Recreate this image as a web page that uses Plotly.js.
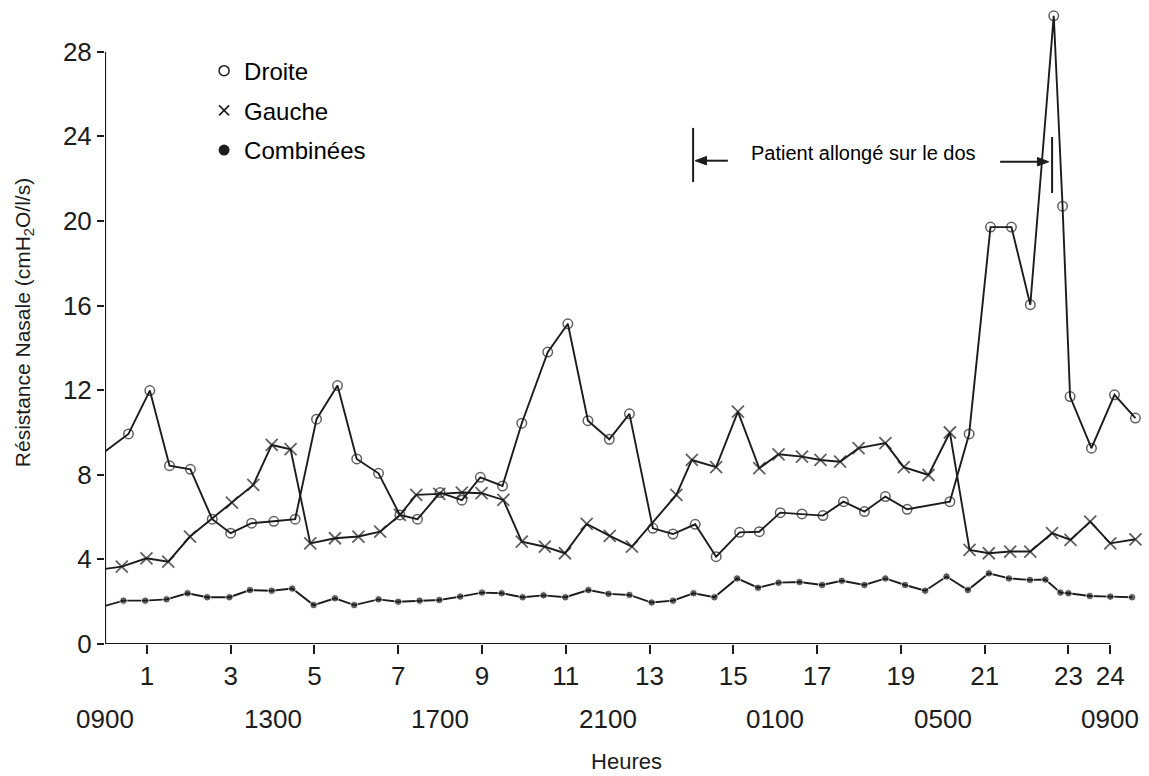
<!DOCTYPE html>
<html>
<head>
<meta charset="utf-8">
<script src="https://cdn.plot.ly/plotly-3.0.1.min.js"></script>
<style>
  html, body { margin: 0; padding: 0; background: #ffffff; }
  #chart { width: 1149px; height: 776px; }
</style>
</head>
<body>
<div id="chart"></div>
<script>
// ---------------- DATA ----------------
// Hours since 09:00
const droiteHours = [0, 0.56, 1.07, 1.54, 2.04, 2.56, 3.0, 3.5, 4.03, 4.54, 5.05, 5.55, 6.01, 6.53, 7.04, 7.46, 8.0, 8.52, 8.96, 9.49, 9.95, 10.57, 11.05, 11.53, 12.04, 12.52, 13.08, 13.56, 14.09, 14.59, 15.15, 15.62, 16.12, 16.64, 17.14, 17.63, 18.13, 18.63, 19.15, 20.17, 20.63, 21.14, 21.64, 22.09, 22.65, 22.86, 23.04, 23.55, 24.1, 24.6];
const droite = [9.1, 9.93, 11.98, 8.43, 8.26, 5.9, 5.24, 5.71, 5.8, 5.9, 10.63, 12.22, 8.75, 8.07, 6.1, 5.9, 7.16, 6.8, 7.88, 7.47, 10.44, 13.8, 15.14, 10.56, 9.68, 10.88, 5.47, 5.2, 5.66, 4.13, 5.28, 5.31, 6.21, 6.15, 6.07, 6.73, 6.26, 6.97, 6.37, 6.73, 9.93, 19.71, 19.71, 16.04, 29.7, 20.7, 11.7, 9.26, 11.78, 10.68];

const gaucheHours = [0, 0.4, 0.99, 1.51, 2.03, 3.03, 3.54, 3.98, 4.43, 4.9, 5.49, 6.05, 6.57, 7.04, 7.43, 7.98, 8.52, 8.99, 9.51, 9.95, 10.5, 10.98, 11.5, 12.05, 12.58, 13.64, 14.01, 14.59, 15.11, 15.62, 16.08, 16.64, 17.08, 17.55, 17.99, 18.63, 19.07, 19.66, 20.17, 20.64, 21.1, 21.61, 22.09, 22.61, 23.05, 23.52, 24.0, 24.6];
const gauche = [3.55, 3.66, 4.05, 3.89, 5.08, 6.68, 7.52, 9.41, 9.21, 4.76, 5.0, 5.08, 5.31, 6.1, 7.05, 7.1, 7.16, 7.13, 6.81, 4.84, 4.6, 4.29, 5.68, 5.11, 4.6, 7.05, 8.7, 8.36, 10.99, 8.31, 8.97, 8.86, 8.7, 8.62, 9.26, 9.5, 8.36, 7.99, 10.0, 4.45, 4.29, 4.37, 4.37, 5.24, 4.92, 5.79, 4.76, 4.95];

const combineesHours = [0, 0.44, 0.96, 1.47, 1.97, 2.44, 2.97, 3.46, 3.98, 4.47, 4.98, 5.49, 5.95, 6.53, 7.0, 7.51, 7.98, 8.48, 9.0, 9.47, 9.97, 10.47, 10.99, 11.54, 12.02, 12.52, 13.05, 13.56, 14.05, 14.55, 15.09, 15.59, 16.08, 16.58, 17.12, 17.59, 18.13, 18.63, 19.1, 19.58, 20.09, 20.6, 21.1, 21.58, 22.08, 22.45, 22.81, 23.0, 23.51, 24.0, 24.52];
const combinees = [1.8, 2.05, 2.05, 2.11, 2.4, 2.21, 2.21, 2.55, 2.52, 2.62, 1.84, 2.16, 1.84, 2.11, 2.0, 2.05, 2.08, 2.24, 2.43, 2.4, 2.21, 2.3, 2.21, 2.55, 2.37, 2.32, 1.96, 2.05, 2.4, 2.21, 3.1, 2.66, 2.9, 2.93, 2.79, 2.99, 2.79, 3.1, 2.79, 2.52, 3.19, 2.55, 3.34, 3.1, 3.03, 3.05, 2.43, 2.4, 2.27, 2.24, 2.21];

const seriesNames = ['Droite', 'Gauche', 'Combinées'];
const hourTicks = [1, 3, 5, 7, 9, 11, 13, 15, 17, 19, 21, 23, 24];
const clockHours = [0, 4, 8, 12, 16, 20, 24];
const clockLabels = ['0900', '1300', '1700', '2100', '0100', '0500', '0900'];
const yTicks = [0, 4, 8, 12, 16, 20, 24, 28];
const supineStart = 14.04, supineEnd = 22.61;
const annotationText = 'Patient allongé sur le dos';

// ---------------- STYLE ----------------
const INK = '#1c1c1c';
const FONT = '"Liberation Sans", Arial, sans-serif';

function sizes(xs, s) { return xs.map(v => (v <= 0.01 ? 0 : s)); }

const traces = [
  {
    x: droiteHours, y: droite, mode: 'lines+markers', showlegend: false, name: seriesNames[0],
    line: { color: INK, width: 1.9 },
    marker: { symbol: 'circle-open', size: sizes(droiteHours, 9.5), color: INK, line: { width: 1.5, color: INK } },
    cliponaxis: false
  },
  {
    x: gaucheHours, y: gauche, mode: 'lines+markers', showlegend: false, name: seriesNames[1],
    line: { color: INK, width: 1.9 },
    marker: { symbol: 'x-thin-open', size: sizes(gaucheHours, 12), color: INK, line: { width: 1.8, color: INK } },
    cliponaxis: false
  },
  {
    x: combineesHours, y: combinees, mode: 'lines+markers', showlegend: false, name: seriesNames[2],
    line: { color: INK, width: 1.9 },
    marker: { symbol: 'circle', size: sizes(combineesHours, 7.5), color: INK },
    cliponaxis: false
  },
  // legend-only entries (markers only, as in the reference)
  { x: [null], y: [null], mode: 'markers', name: seriesNames[0], legendgroup: 'a',
    marker: { symbol: 'circle-open', size: 10, color: INK, line: { width: 1.5, color: INK } } },
  { x: [null], y: [null], mode: 'markers', name: seriesNames[1], legendgroup: 'b',
    marker: { symbol: 'x-thin-open', size: 10, color: INK, line: { width: 1.6, color: INK } } },
  { x: [null], y: [null], mode: 'markers', name: seriesNames[2], legendgroup: 'c',
    marker: { symbol: 'circle', size: 11, color: INK } }
];

const annotations = clockHours.map((h, i) => ({
  x: h, y: -0.117, xref: 'x', yref: 'paper', text: clockLabels[i], showarrow: false,
  xanchor: 'center', yanchor: 'middle', font: { family: FONT, size: 26, color: INK }
}));
annotations.push({
  x: 18.1, y: 23.2, xref: 'x', yref: 'y', text: annotationText, showarrow: false,
  xanchor: 'center', yanchor: 'middle', font: { family: FONT, size: 20, color: '#000' }
});

// bracket + arrow decorations for the "supine" period
const arrowY = 22.85, headLen = 0.27, headHalf = 0.2;
const leftTip = supineStart + 0.05, rightTip = supineEnd - 0.08;
const shapes = [
  { type: 'line', xref: 'x', yref: 'y', x0: 0, x1: 24, y0: 0, y1: 0, line: { color: INK, width: 2.2 } },
  { type: 'line', xref: 'x', yref: 'y', x0: 0, x1: 0, y0: 0, y1: 28, line: { color: INK, width: 2.2 } },
  { type: 'line', xref: 'x', yref: 'y', x0: supineStart, x1: supineStart, y0: 21.84, y1: 24.4, line: { color: INK, width: 2 } },
  { type: 'line', xref: 'x', yref: 'y', x0: supineEnd, x1: supineEnd, y0: 21.32, y1: 23.97, line: { color: INK, width: 2 } },
  { type: 'line', xref: 'x', yref: 'y', x0: leftTip + headLen, x1: 14.87, y0: arrowY, y1: arrowY, line: { color: INK, width: 2 } },
  { type: 'path', xref: 'x', yref: 'y', fillcolor: INK, line: { color: INK, width: 1 },
    path: `M ${leftTip} ${arrowY} L ${leftTip + headLen} ${arrowY + headHalf} L ${leftTip + headLen} ${arrowY - headHalf} Z` },
  { type: 'line', xref: 'x', yref: 'y', x0: 21.37, x1: rightTip - headLen, y0: arrowY - 0.05, y1: arrowY - 0.05, line: { color: INK, width: 2 } },
  { type: 'path', xref: 'x', yref: 'y', fillcolor: INK, line: { color: INK, width: 1 },
    path: `M ${rightTip} ${arrowY - 0.05} L ${rightTip - headLen} ${arrowY - 0.05 + headHalf} L ${rightTip - headLen} ${arrowY - 0.05 - headHalf} Z` }
];

const layout = {
  width: 1149, height: 776,
  margin: { l: 105, r: 1, t: 1, b: 132 },
  paper_bgcolor: '#ffffff', plot_bgcolor: '#ffffff',
  font: { family: FONT, color: INK },
  showlegend: true,
  legend: {
    x: 0.095, xanchor: 'left', y: 0.926, yanchor: 'top',
    font: { family: FONT, size: 24, color: '#000' },
    bgcolor: 'rgba(0,0,0,0)', traceorder: 'grouped', tracegroupgap: 5.5, itemclick: false
  },
  xaxis: {
    range: [0, 24.9], showgrid: false, zeroline: false, showline: false,
    tickmode: 'array', tickvals: hourTicks, ticktext: hourTicks.map(String),
    ticks: 'outside', ticklen: 9, tickwidth: 2, tickcolor: INK,
    tickfont: { family: FONT, size: 26, color: INK },
    title: { text: 'Heures', font: { family: FONT, size: 22, color: INK }, standoff: 63 }
  },
  yaxis: {
    range: [0, 30.4], showgrid: false, zeroline: false, showline: false,
    tickmode: 'array', tickvals: yTicks, ticktext: yTicks.map(String),
    ticks: 'outside', ticklen: 7, tickwidth: 2, tickcolor: INK,
    tickfont: { family: FONT, size: 26, color: INK },
    title: { text: 'Résistance Nasale (cmH<sub>2</sub>O/l/s)', font: { family: FONT, size: 21, color: INK }, standoff: 26 }
  },
  shapes: shapes,
  annotations: annotations
};

Plotly.newPlot('chart', traces, layout, { displayModeBar: false, staticPlot: true });
</script>
</body>
</html>
